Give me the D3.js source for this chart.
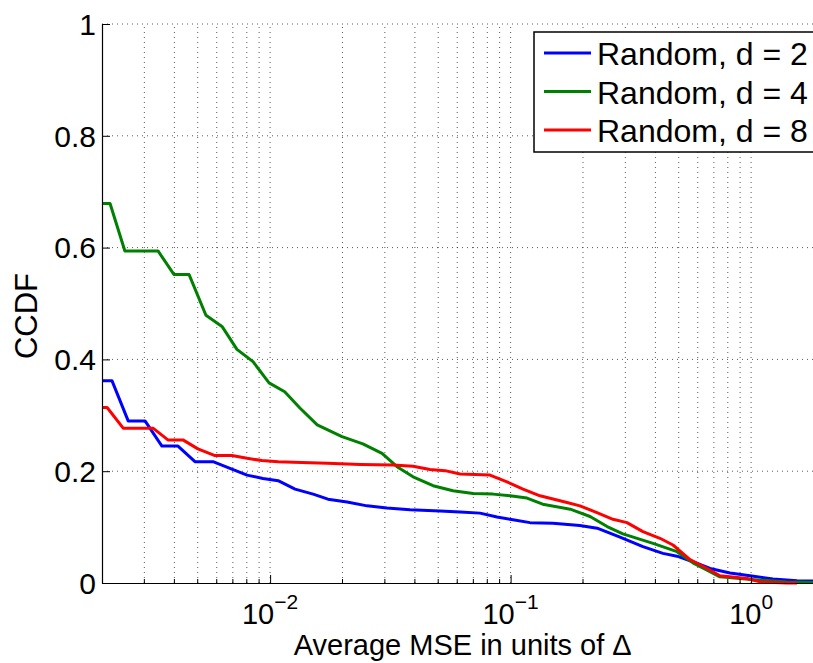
<!DOCTYPE html>
<html>
<head>
<meta charset="UTF-8">
<style>
body, html {
    margin: 0;
    padding: 0;
    width: 100%;
    height: 100%;
    overflow: hidden;
    background-color: #ffffff;
}
svg {
    display: block;
    font-family: "Liberation Sans", Arial, Helvetica, sans-serif;
}
.grid line {
    stroke: #222;
    stroke-width: 1;
    stroke-dasharray: 1,4;
    opacity: 0.75;
}
</style>
</head>
<body>
<svg id="chart"></svg>
<script src="https://d3js.org/d3.v7.min.js"></script>
<script>
// CCDF of average MSE (x in units of delta), one curve per d
let mseD2 = [0.002, 0.0022, 0.00257, 0.00302, 0.00355, 0.00414, 0.00487, 0.00579, 0.00681, 0.00802, 0.00934, 0.0108, 0.0127, 0.0151, 0.0174, 0.0209, 0.0253, 0.0306, 0.0382, 0.0509, 0.0616, 0.0746, 0.0878, 0.1023, 0.1204, 0.150, 0.194, 0.229, 0.285, 0.355, 0.430, 0.492, 0.573, 0.675, 0.817, 0.99, 1.233, 1.552, 2.0];
let ccdfD2 = [0.362, 0.362, 0.290, 0.290, 0.245, 0.245, 0.217, 0.217, 0.205, 0.193, 0.187, 0.183, 0.168, 0.159, 0.150, 0.145, 0.138, 0.134, 0.131, 0.129, 0.127, 0.125, 0.118, 0.113, 0.108, 0.107, 0.103, 0.098, 0.082, 0.065, 0.053, 0.048, 0.038, 0.026, 0.018, 0.013, 0.007, 0.004, 0.003];

let mseD4 = [0.002, 0.00216, 0.00249, 0.00342, 0.00398, 0.0046, 0.00541, 0.00631, 0.00728, 0.00849, 0.0099, 0.0115, 0.0133, 0.0157, 0.0199, 0.0243, 0.0292, 0.0337, 0.0393, 0.0476, 0.0576, 0.0698, 0.0845, 0.0994, 0.117, 0.136, 0.177, 0.214, 0.252, 0.293, 0.391, 0.492, 0.573, 0.656, 0.742, 0.899, 1.089, 1.41, 1.81, 2.0];
let ccdfD4 = [0.679, 0.679, 0.594, 0.594, 0.552, 0.552, 0.479, 0.459, 0.418, 0.396, 0.358, 0.342, 0.313, 0.283, 0.262, 0.249, 0.232, 0.208, 0.190, 0.174, 0.165, 0.160, 0.159, 0.156, 0.152, 0.141, 0.132, 0.119, 0.101, 0.088, 0.071, 0.056, 0.036, 0.023, 0.011, 0.008, 0.005, 0.002, 0.001, 0.001];

let mseD8 = [0.002, 0.0021, 0.00245, 0.00326, 0.00376, 0.00434, 0.00501, 0.0059, 0.00694, 0.00802, 0.00925, 0.0108, 0.0125, 0.0173, 0.0237, 0.0324, 0.0393, 0.0462, 0.0534, 0.0616, 0.0821, 0.0966, 0.1126, 0.1325, 0.1716, 0.1942, 0.2286, 0.2665, 0.3047, 0.355, 0.4178, 0.4733, 0.557, 0.6556, 0.7424, 0.9612, 1.089, 1.41, 1.552];
let ccdfD8 = [0.314, 0.314, 0.277, 0.277, 0.256, 0.256, 0.240, 0.228, 0.228, 0.223, 0.219, 0.217, 0.216, 0.214, 0.212, 0.211, 0.209, 0.203, 0.201, 0.195, 0.193, 0.181, 0.168, 0.156, 0.144, 0.138, 0.126, 0.114, 0.108, 0.092, 0.080, 0.068, 0.042, 0.026, 0.013, 0.008, 0.002, 0.0, 0.0];

let seriesNames = ["Random, d = 2", "Random, d = 4", "Random, d = 8"];
let seriesColors = ["#0000ff", "#008000", "#ff0000"];

let yTicks = [0, 0.2, 0.4, 0.6, 0.8, 1];
let yTickLabels = ["0", "0.2", "0.4", "0.6", "0.8", "1"];
let xMajorTicks = [0.01, 0.1, 1];
let xExponents = ["\u22122", "\u22121", "0"];

let width = 813, height = 663;
let margin = {left: 102, top: 24, bottom: 80};
let plotRight = 823.5; // axis continues a bit past the cropped edge

let svg = d3.select("#chart")
    .attr("width", width)
    .attr("height", height);

let x = d3.scaleLog()
    .domain([0.002, 2])
    .range([margin.left, plotRight]);

let y = d3.scaleLinear()
    .domain([0, 1])
    .range([height - margin.bottom, margin.top]);

// minor ticks for the log axis: 2..9 times each decade
let xMinorTicks = [];
[0.001, 0.01, 0.1, 1].forEach(dec => {
    for (let k = 2; k <= 9; k++) {
        let v = dec * k;
        if (v > 0.002 && v < 2) xMinorTicks.push(v);
    }
});

// grid
let grid = svg.append("g").attr("class", "grid");
grid.selectAll(".vgrid")
    .data(xMinorTicks.concat(xMajorTicks))
    .enter()
    .append("line")
    .attr("x1", d => x(d))
    .attr("x2", d => x(d))
    .attr("y1", y(0))
    .attr("y2", y(1));

grid.selectAll(".hgrid")
    .data(yTicks.filter(d => d > 0))
    .enter()
    .append("line")
    .attr("x1", x(0.002))
    .attr("x2", plotRight)
    .attr("y1", d => y(d))
    .attr("y2", d => y(d));

// curves
let curves = [
    {name: seriesNames[0], color: seriesColors[0], xs: mseD2, ys: ccdfD2},
    {name: seriesNames[1], color: seriesColors[1], xs: mseD4, ys: ccdfD4},
    {name: seriesNames[2], color: seriesColors[2], xs: mseD8, ys: ccdfD8}
];

let line = d3.line()
    .x(d => x(d[0]))
    .y(d => y(d[1]));

svg.append("g")
    .selectAll("path")
    .data(curves)
    .enter()
    .append("path")
    .attr("fill", "none")
    .attr("stroke", d => d.color)
    .attr("stroke-width", 3)
    .attr("stroke-linejoin", "round")
    .attr("d", d => line(d.xs.map((v, i) => [v, d.ys[i]])));

// axes (ticks point inwards)
let xAxis = svg.append("g")
    .attr("transform", `translate(0, ${y(0)})`)
    .call(d3.axisBottom(x).tickValues(xMajorTicks).tickSizeInner(-8).tickSizeOuter(0).tickFormat(""));
xAxis.select(".domain").attr("stroke", "#000").attr("stroke-width", 1.2);

xAxis.selectAll(".minor")
    .data(xMinorTicks)
    .enter()
    .append("line")
    .attr("class", "minor")
    .attr("x1", d => x(d))
    .attr("x2", d => x(d))
    .attr("y1", 0)
    .attr("y2", -4)
    .attr("stroke", "#000");

let yAxis = svg.append("g")
    .attr("transform", `translate(${margin.left}, 0)`)
    .call(d3.axisLeft(y).tickValues(yTicks).tickSizeInner(-8).tickSizeOuter(0).tickFormat(""));
yAxis.select(".domain").attr("stroke", "#000").attr("stroke-width", 1.2);

// y tick labels
svg.append("g")
    .selectAll("text")
    .data(yTicks)
    .enter()
    .append("text")
    .attr("x", margin.left - 6)
    .attr("y", d => y(d))
    .attr("dy", "0.36em")
    .attr("text-anchor", "end")
    .attr("font-size", 30)
    .text((d, i) => yTickLabels[i]);

// x tick labels 10^k
let xLabels = svg.append("g")
    .selectAll("text")
    .data(xMajorTicks)
    .enter()
    .append("text")
    .attr("x", d => x(d))
    .attr("y", 624)
    .attr("text-anchor", "middle")
    .attr("font-size", 29);
xLabels.append("tspan").text("10");
xLabels.append("tspan")
    .attr("font-size", 21)
    .attr("dy", -15)
    .text((d, i) => xExponents[i]);

// axis titles
svg.append("text")
    .attr("x", (margin.left + plotRight) / 2)
    .attr("y", 655)
    .attr("text-anchor", "middle")
    .attr("font-size", 29)
    .text("Average MSE in units of \u0394");

svg.append("text")
    .attr("transform", `translate(37, 316) rotate(-90)`)
    .attr("text-anchor", "middle")
    .attr("font-size", 31)
    .text("CCDF");

// legend
let legend = svg.append("g").attr("transform", "translate(534, 32)");
legend.append("rect")
    .attr("width", 300)
    .attr("height", 120)
    .attr("fill", "#fff")
    .attr("stroke", "#000")
    .attr("stroke-width", 1.5);

let legendItem = legend.selectAll(".legend-item")
    .data(curves)
    .enter()
    .append("g")
    .attr("class", "legend-item")
    .attr("transform", (d, i) => `translate(0, ${21 + i * 38.5})`);

legendItem.append("line")
    .attr("x1", 10)
    .attr("x2", 57)
    .attr("stroke", d => d.color)
    .attr("stroke-width", 3);

legendItem.append("text")
    .attr("x", 63)
    .attr("y", 12)
    .attr("font-size", 32)
    .text(d => d.name);
</script>
</body>
</html>
